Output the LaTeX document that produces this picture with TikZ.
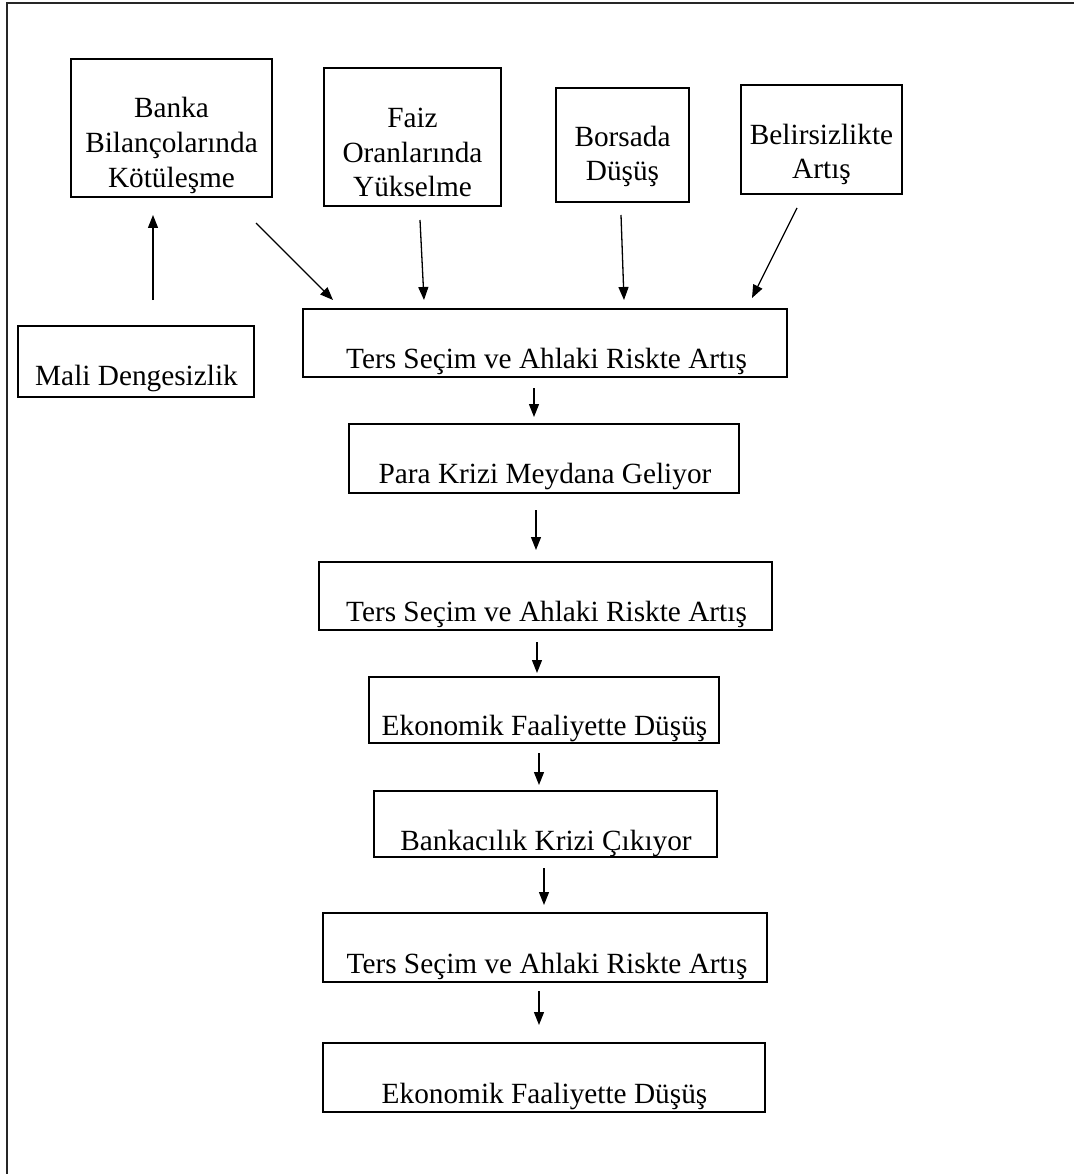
\documentclass[tikz,border=0pt]{standalone}
\usepackage{fontspec}
\setmainfont{Liberation Serif}
\usetikzlibrary{arrows.meta,calc}
\begin{document}
\begin{tikzpicture}[x=1pt,y=-1pt,
  box/.style={draw=black,line width=1.6pt,rectangle,inner sep=0pt,outer sep=0pt,anchor=north west},
  txt/.style={inner sep=0pt,anchor=base,font=\fontsize{29.3}{35}\selectfont},
  arr/.style={line width=1.3pt,-{Triangle[length=13pt,width=10pt]}}]
\useasboundingbox (0,0) rectangle (1073,1174);
\fill[white] (0,0) rectangle (1073,1174);
\draw[line width=2pt,black!85] (6.5,1180) -- (6.5,3.5) -- (1080,3.5);

% boxes
\node[box,minimum width=201pt,minimum height=138pt] (banka) at (71,59) {};
\node[box,minimum width=177pt,minimum height=138pt] (faiz) at (324,68) {};
\node[box,minimum width=133pt,minimum height=114pt] (borsa) at (556,88) {};
\node[box,minimum width=161pt,minimum height=109pt] (belir) at (741,85) {};
\node[box,minimum width=236pt,minimum height=71pt] (mali) at (18,326) {};
\node[box,minimum width=484pt,minimum height=68pt] (ters1) at (303,309) {};
\node[box,minimum width=390pt,minimum height=69pt] (para) at (349,424) {};
\node[box,minimum width=453pt,minimum height=68pt] (ters2) at (319,562) {};
\node[box,minimum width=350pt,minimum height=66pt] (eko1) at (369,677) {};
\node[box,minimum width=343pt,minimum height=66pt] (bank) at (374,791) {};
\node[box,minimum width=444pt,minimum height=69pt] (ters3) at (323,913) {};
\node[box,minimum width=442pt,minimum height=69pt] (eko2) at (323,1043) {};

% texts
\node[txt] (bankaA) at (171.5,118) {Banka};
\node[txt] (bankaB) at (171.5,153) {Bilançolarında};
\node[txt] (bankaC) at (171.5,188) {Kötüleşme};
\node[txt] (faizA) at (412.5,128) {Faiz};
\node[txt] (faizB) at (412.5,163) {Oranlarında};
\node[txt] (faizC) at (412.5,197) {Yükselme};
\node[txt] (borsaA) at (622.5,147) {Borsada};
\node[txt] (borsaB) at (622.5,181) {Düşüş};
\node[txt] (belirA) at (821.5,145) {Belirsizlikte};
\node[txt] (belirB) at (821.5,179) {Artış};
\node[txt] (maliT) at (136.5,385) {Mali Dengesizlik};
\node[txt] (ters1T) at (546.5,368) {Ters Seçim ve Ahlaki Riskte Artış};
\node[txt] (paraT) at (545,483) {Para Krizi Meydana Geliyor};
\node[txt] (ters2T) at (546.5,621) {Ters Seçim ve Ahlaki Riskte Artış};
\node[txt] (eko1T) at (544.5,735) {Ekonomik Faaliyette Düşüş};
\node[txt] (bankT) at (546,850) {Bankacılık Krizi Çıkıyor};
\node[txt] (ters3T) at (547,973) {Ters Seçim ve Ahlaki Riskte Artış};
\node[txt] (eko2T) at (544.5,1103) {Ekonomik Faaliyette Düşüş};

% arrows
\draw[arr] ($(mali.north)+(17,-26)$) -- ($(banka.south)+(-18.5,18)$);
\draw[arr] ($(banka.south east)+(-16,26)$) -- ($(ters1.north west)+(30,-9)$);
\draw[arr] ($(faiz.south)+(7.5,14)$) -- ($(ters1.north)+(-121,-9)$);
\draw[arr] ($(borsa.south)+(-1.5,13)$) -- ($(ters1.north)+(79,-9)$);
\draw[arr] ($(belir.south)+(-24.5,14)$) -- ($(ters1.north east)+(-35,-11)$);
\draw[arr] ($(ters1.south)+(-11,11)$) -- ($(para.north)+(-10,-7)$);
\draw[arr] ($(para.south)+(-8,17)$) -- ($(ters2.north)+(-9.5,-12)$);
\draw[arr] ($(ters2.south)+(-8.5,12)$) -- ($(eko1.north)+(-7,-4)$);
\draw[arr] ($(eko1.south)+(-5,10)$) -- ($(bank.north)+(-6.5,-6)$);
\draw[arr] ($(bank.south)+(-1.5,11)$) -- ($(ters3.north)+(-1,-8)$);
\draw[arr] ($(ters3.south)+(-6,9)$) -- ($(eko2.north)+(-5,-18)$);
\end{tikzpicture}
\end{document}
